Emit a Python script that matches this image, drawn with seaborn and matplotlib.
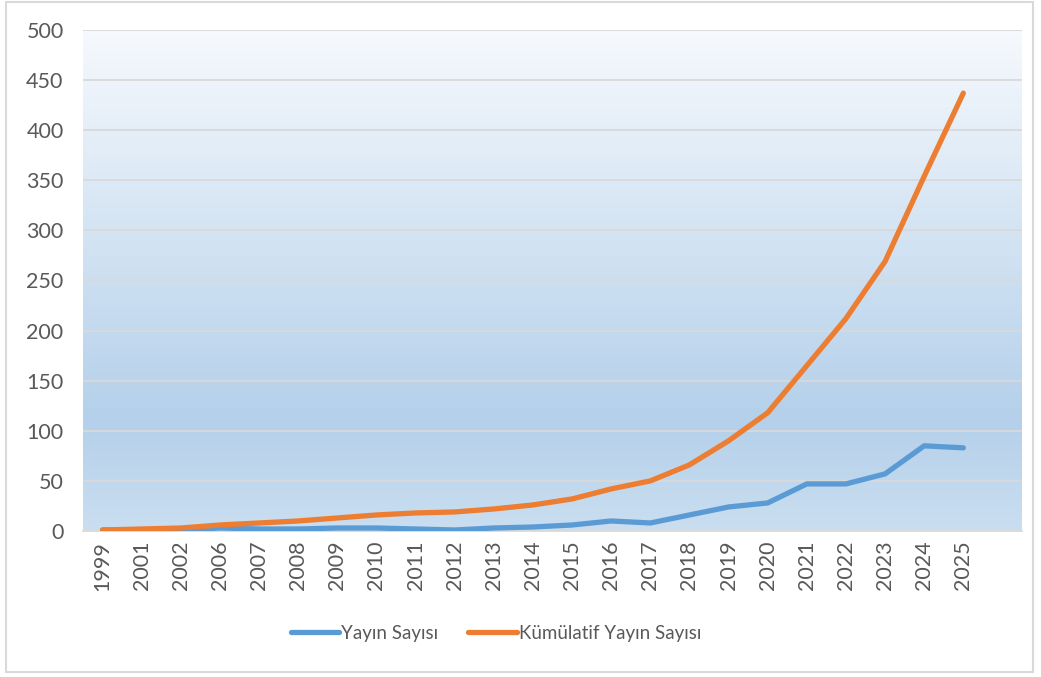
import numpy as np
import pandas as pd
import matplotlib
matplotlib.use("Agg")
import matplotlib.pyplot as plt
import seaborn as sns
from matplotlib.colors import LinearSegmentedColormap
from matplotlib.lines import Line2D
from matplotlib.patches import FancyBboxPatch

# ---- data ----
years = ["1999", "2001", "2002", "2006", "2007", "2008", "2009", "2010", "2011", "2012",
         "2013", "2014", "2015", "2016", "2017", "2018", "2019", "2020", "2021", "2022",
         "2023", "2024", "2025"]
yayin = [1, 1, 1, 3, 2, 2, 3, 3, 2, 1, 3, 4, 6, 10, 8, 16, 24, 28, 47, 47, 57, 85, 83]
kumulatif = [1, 2, 3, 6, 8, 10, 13, 16, 18, 19, 22, 26, 32, 42, 50, 66, 90, 118, 165,
             212, 269, 354, 437]
series_names = ["Yayın Sayısı", "Kümülatif Yayın Sayısı"]
colors = {"Yayın Sayısı": "#5b9bd5", "Kümülatif Yayın Sayısı": "#ed7d31"}

pos = np.arange(len(years))
df = pd.concat([
    pd.DataFrame({"pos": pos, "value": yayin, "seri": series_names[0]}),
    pd.DataFrame({"pos": pos, "value": kumulatif, "seri": series_names[1]}),
])

sns.set_theme(style="white")
plt.rcParams["font.family"] = ["Lato", "DejaVu Sans"]

fig = plt.figure(figsize=(10.41, 6.77), dpi=100)
ax = fig.add_axes([83 / 1041, 1 - 531 / 677, (1022 - 83) / 1041, (531 - 30) / 677])

# outer chart border
fig.patches.append(FancyBboxPatch((6 / 1041, 5 / 677), 1027 / 1041, 670 / 677,
                                  boxstyle="square,pad=0", transform=fig.transFigure,
                                  fill=False, edgecolor="#d9d9d9", linewidth=1.5))

# gradient plot area
cmap = LinearSegmentedColormap.from_list(
    "excel_grad", [(0.0, "#f6f9fd"), (0.78, "#b4d0ea"), (1.0, "#cadef0")])
grad = np.linspace(0, 1, 256).reshape(-1, 1)
ax.imshow(grad, extent=[-0.5, len(years) + 0.5, 0, 500], origin="upper",
          aspect="auto", cmap=cmap, zorder=0.1)

sns.lineplot(data=df, x="pos", y="value", hue="seri", palette=colors,
             linewidth=3.8, solid_capstyle="round", legend=False, ax=ax, zorder=3)

fs = 15.5
ax.set_xlim(-0.5, len(years) + 0.5)
ax.set_ylim(0, 500)
ax.set_yticks(np.arange(0, 501, 50))
ax.set_xticks(pos)
ax.set_xticklabels(years, rotation=90)
ax.tick_params(axis="y", length=0, pad=14, labelsize=fs, labelcolor="#595959")
ax.tick_params(axis="x", length=0, pad=7, labelsize=fs, labelcolor="#595959")
ax.set_xlabel("")
ax.set_ylabel("")
ax.set_axisbelow(True)
ax.grid(axis="y", color="#d9d9d9", linewidth=1.3, zorder=0.5)
ax.grid(axis="x", visible=False)
for s in ["top", "right", "left"]:
    ax.spines[s].set_visible(False)
ax.spines["bottom"].set_color("#d9d9d9")
ax.spines["bottom"].set_linewidth(1.3)
ax.spines["bottom"].set_zorder(2)

handles = [Line2D([], [], color=colors[n], linewidth=3.8, solid_capstyle="round")
           for n in series_names]
fig.legend(handles, series_names, loc="center", bbox_to_anchor=(496 / 1041, 1 - 633 / 677),
           ncol=2, frameon=False, fontsize=13.5, handlelength=2.6, handletextpad=0.1,
           columnspacing=1.6, labelcolor="#595959")

fig.savefig("out.png", dpi=100)
